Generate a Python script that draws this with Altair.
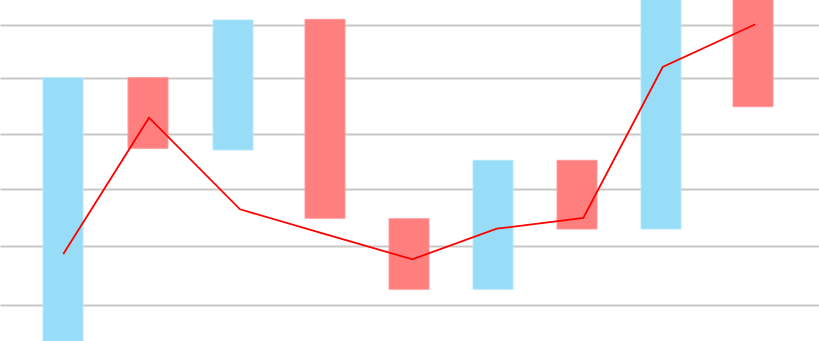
import altair as alt
import pandas as pd

# Bars (floating, open -> close), x is the bar centre position
bar_x = [63, 148, 233, 325, 409, 493, 577, 661, 753]
bar_open = [-19, 263.3, 191, 321.7, 122.3, 51.7, 180.7, 112, 361]
bar_close = [263.3, 192.7, 321, 122.7, 51.7, 180.7, 112, 361, 234.3]
bar_dir = ["up", "down", "up", "down", "down", "up", "down", "up", "down"]

# Line series
line_x = [63.3, 149, 240, 326, 412.3, 496.7, 583.3, 662.7, 755.3]
line_y = [87, 223.3, 131.7, 106.7, 81.7, 112.3, 123, 274, 316.7]

# Horizontal grid levels
grid_values = [316.3, 262.7, 206.7, 152.3, 95, 36]

bars = pd.DataFrame({"x": bar_x, "open": bar_open, "close": bar_close, "dir": bar_dir})
line = pd.DataFrame({"x": line_x, "y": line_y})

xscale = alt.Scale(domain=[0, 819], nice=False, zero=False, padding=0)
yscale = alt.Scale(domain=[0, 341], nice=False, zero=False, padding=0)

bar_layer = alt.Chart(bars).mark_bar(size=40, strokeWidth=1, clip=True).encode(
    x=alt.X("x:Q", scale=xscale, axis=None),
    y=alt.Y("open:Q", scale=yscale,
            axis=alt.Axis(values=grid_values, grid=True, labels=False, ticks=False,
                          domain=False, title=None, gridColor="#c8c8c8", gridWidth=2)),
    y2="close:Q",
    color=alt.Color("dir:N", scale=alt.Scale(domain=["up", "down"], range=["#98DDF8", "#FF7F7F"]), legend=None),
    stroke=alt.Stroke("dir:N", scale=alt.Scale(domain=["up", "down"], range=["#B5E7FA", "#FF9A9A"]), legend=None),
)

line_layer = alt.Chart(line).mark_line(color="#FF0000", strokeWidth=1.8, clip=True).encode(
    x=alt.X("x:Q", scale=xscale, axis=None),
    y=alt.Y("y:Q", scale=yscale),
)

chart = alt.layer(bar_layer, line_layer).properties(
    width=819, height=341, autosize=alt.AutoSizeParams(type="none"), padding=0
).configure_view(stroke=None)

chart.save("out.html", embed_options={"renderer": "svg", "actions": False})
